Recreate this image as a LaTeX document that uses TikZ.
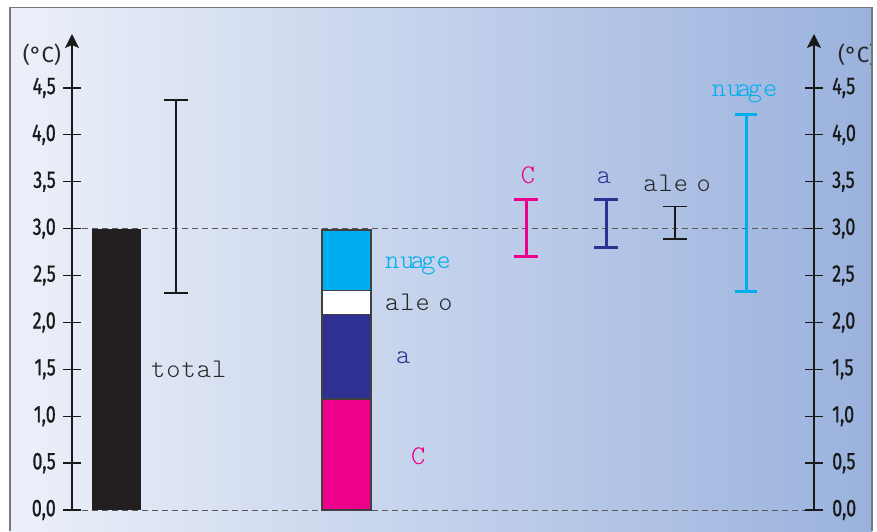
\documentclass[tikz,border=0pt]{standalone}
\usepackage{fontspec}
\newfontfamily\tickfont[FakeStretch=0.75,FakeBold=0.8]{Fira Sans}
\newfontfamily\unitfont{Fira Sans}
\newfontfamily\monof[LetterSpace=4]{Latin Modern Mono Light}
\usetikzlibrary{arrows.meta}
\definecolor{bgL}{RGB}{236,240,249}
\definecolor{bgR}{RGB}{154,178,221}
\definecolor{mag}{RGB}{236,0,140}
\definecolor{dblue}{RGB}{46,49,146}
\definecolor{cyanC}{RGB}{0,174,239}
\definecolor{barblack}{RGB}{35,31,32}
\definecolor{frameC}{RGB}{120,120,120}
\definecolor{txt}{RGB}{40,40,40}
\begin{document}
\begin{tikzpicture}[x=1pt,y=-1pt,
  lbl/.style={font=\monof\fontsize{27}{27}\selectfont, inner sep=0pt, anchor=base},
  lblw/.style={lbl, anchor=base west},
  ticklbl/.style={font=\tickfont\fontsize{24}{24}\selectfont, inner sep=0pt, text=black!90},
  unitlbl/.style={font=\unitfont\fontsize{22}{22}\selectfont, inner sep=0pt, text=black!85},
  axisline/.style={line width=1.5pt, draw=black!90, -{Stealth[length=14pt,width=14pt,inset=3pt]}},
  tickline/.style={line width=1.3pt, draw=black!90},
  ebar/.style={line width=3pt},
  ebarthin/.style={line width=1.6pt, draw=black!90},
  barbox/.style={draw=black!75, line width=1.3pt},
  refline/.style={dash pattern=on 6pt off 4pt, draw=black!65, line width=1pt}
]
\useasboundingbox (0,0) rectangle (877,531);
\fill[white] (0,0) rectangle (877,531);
\begin{scope}
\clip (10,7.5) rectangle (872,531);
\shade[left color=bgL, right color=bgR] (10,7.5) rectangle (872,531);

% axes coordinates
\coordinate (L0) at (72,510);
\coordinate (Ltop) at (72,34);
\coordinate (R0) at (814,510);
\coordinate (Rtop) at (814,34);
\coordinate (L3) at (72,228.5);
\coordinate (R3) at (814,228.5);

% reference dashed lines
\draw[refline] (L3) -- (R3);
\draw[refline] (L0) -- (R0);

% bars
\fill[barblack] (92,229) rectangle (141,510);
\filldraw[barbox, fill=mag] (322,399) rectangle (371,510);
\filldraw[barbox, fill=dblue] (322,314.5) rectangle (371,399);
\filldraw[barbox, fill=white] (322,290.5) rectangle (371,314.5);
\filldraw[barbox, fill=cyanC] (322,230) rectangle (371,290.5);

% axes
\draw[axisline] (L0) -- (Ltop);
\draw[axisline] (R0) -- (Rtop);
\foreach \i in {0,...,9}{
  \pgfmathsetmacro\yy{510-46.9*\i}
  \pgfmathtruncatemacro\a{\i/2}
  \pgfmathtruncatemacro\b{mod(\i,2)*5}
  \draw[tickline] (63,\yy) -- (81,\yy);
  \draw[tickline] (805,\yy) -- (823,\yy);
  \node[ticklbl, anchor=east] (lt\i) at (56,\yy) {\a,\b};
  \node[ticklbl, anchor=west] (rt\i) at (832,\yy) {\a,\b};
}
\node[unitlbl] (unitL) at (42,55) {(°C)};
\node[unitlbl, anchor=west] (unitR) at (838,55) {(°C)};

% error bars
\coordinate (tT) at (176,100); \coordinate (tB) at (176,293);
\draw[line width=2pt, draw=black!90] (tT) -- (tB);
\draw[line width=2pt, draw=black!90] ([xshift=-12pt]tT) -- ([xshift=12pt]tT);
\draw[line width=2pt, draw=black!90] ([xshift=-12pt]tB) -- ([xshift=12pt]tB);

\coordinate (cT) at (526,199.5); \coordinate (cB) at (526,256.5);
\draw[ebar, mag] (cT) -- (cB);
\draw[ebar, mag] ([xshift=-12pt]cT) -- ([xshift=12pt]cT);
\draw[ebar, mag] ([xshift=-12pt]cB) -- ([xshift=12pt]cB);

\coordinate (aT) at (606,199.5); \coordinate (aB) at (606,247);
\draw[ebar, dblue] (aT) -- (aB);
\draw[ebar, dblue] ([xshift=-12pt]aT) -- ([xshift=12pt]aT);
\draw[ebar, dblue] ([xshift=-12pt]aB) -- ([xshift=12pt]aB);

\coordinate (oT) at (675,206.5); \coordinate (oB) at (675,239);
\draw[ebarthin] (oT) -- (oB);
\draw[ebarthin] ([xshift=-12pt]oT) -- ([xshift=12pt]oT);
\draw[ebarthin] ([xshift=-12pt]oB) -- ([xshift=12pt]oB);

\coordinate (nT) at (746,114); \coordinate (nB) at (746,291);
\draw[ebar, cyanC] (nT) -- (nB);
\draw[ebar, cyanC] ([xshift=-11pt]nT) -- ([xshift=11pt]nT);
\draw[ebar, cyanC] ([xshift=-11pt]nB) -- ([xshift=11pt]nB);

% labels
\node[lbl, mag] (Ctop) at (528,183) {C};
\node[lbl, dblue] (atop) at (604,183) {a};
\node[lbl, txt] (aleotop) at (677,191) {ale\kern-.25em{} o};
\node[lbl, cyanC] (nuagetop) at (744.5,96) {nu\kern-.14em a\kern-.14em ge};

\node[lblw, txt] (total) at (151,377) {total};
\node[lblw, cyanC] (nuage) at (385,268) {nu\kern-.14em a\kern-.14em ge};
\node[lblw, txt] (aleo) at (385,310) {ale\kern-.25em{} o};
\node[lblw, dblue] (aa) at (396,363) {a};
\node[lblw, mag] (cc) at (411,464) {C};
\end{scope}
\draw[frameC, line width=1.5pt] (10,531) -- (10,7.5) -- (872,7.5) -- (872,531);
\end{tikzpicture}
\end{document}
